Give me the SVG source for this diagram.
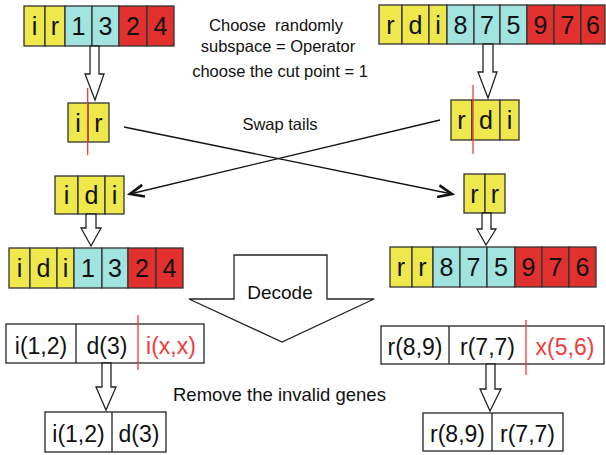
<svg xmlns="http://www.w3.org/2000/svg" width="606" height="455" viewBox="0 0 606 455">
<style>
.y{fill:#eee84c;stroke:#333;stroke-width:1.3}
.c{fill:#a1e3df;stroke:#333;stroke-width:1.3}
.r{fill:#e2302f;stroke:#333;stroke-width:1.3}
.w{fill:#fff;stroke:#222;stroke-width:1.3}
.g{font-family:"Liberation Sans",Arial,sans-serif;font-size:25px;fill:#111;text-anchor:middle}
.gt{font-family:"Liberation Sans",Arial,sans-serif;font-size:23px;fill:#111;text-anchor:middle}
.red{fill:#f23b3b}
.lbl{font-family:"Liberation Sans",Arial,sans-serif;font-size:16.5px;fill:#111;text-anchor:middle}
.cut{stroke:#f23b3b;stroke-width:1.3}
.ha{fill:#fff;stroke:#222;stroke-width:1.3;stroke-linejoin:miter}
.ln{stroke:#111;stroke-width:1.3;fill:none}
</style>
<defs>
<marker id="ah" markerUnits="userSpaceOnUse" markerWidth="18" markerHeight="16" refX="15" refY="7" orient="auto" viewBox="0 0 18 16">
<path d="M1,1 L15,7 L1,13" fill="none" stroke="#111" stroke-width="2.6" stroke-linejoin="miter"/>
</marker>
</defs>
<rect width="606" height="455" fill="#fff"/>

<g id="labels">
<text class="lbl" x="276" y="31" xml:space="preserve">Choose  randomly</text>
<text class="lbl" x="278" y="52">subspace = Operator</text>
<text class="lbl" x="280" y="77">choose the cut point = 1</text>
<text class="lbl" x="280" y="130">Swap tails</text>
<text class="lbl" x="173" y="401" style="text-anchor:start;font-size:18.5px">Remove the invalid genes</text>
</g>

<g id="parent1">
<rect class="y" x="24" y="6" width="21" height="40"/><rect class="y" x="45" y="6" width="20" height="40"/>
<rect class="c" x="65" y="6" width="27" height="40"/><rect class="c" x="92" y="6" width="27" height="40"/>
<rect class="r" x="119" y="6" width="28" height="40"/><rect class="r" x="147" y="6" width="27" height="40"/>
<text class="g" x="34.5" y="35">i</text><text class="g" x="55" y="35">r</text><text class="g" x="78.5" y="35">1</text><text class="g" x="105.5" y="35">3</text><text class="g" x="133" y="35">2</text><text class="g" x="160.5" y="35">4</text>
</g>

<g id="parent2">
<rect class="y" x="379" y="5" width="23" height="39"/><rect class="y" x="402" y="5" width="27" height="39"/><rect class="y" x="429" y="5" width="18" height="39"/>
<rect class="c" x="447" y="5" width="27" height="39"/><rect class="c" x="474" y="5" width="26" height="39"/><rect class="c" x="500" y="5" width="27" height="39"/>
<rect class="r" x="527" y="5" width="27" height="39"/><rect class="r" x="554" y="5" width="27" height="39"/><rect class="r" x="581" y="5" width="24" height="39"/>
<text class="g" x="390.5" y="34">r</text><text class="g" x="415.5" y="34">d</text><text class="g" x="438" y="34">i</text><text class="g" x="460.5" y="34">8</text><text class="g" x="487" y="34">7</text><text class="g" x="513.5" y="34">5</text><text class="g" x="540.5" y="34">9</text><text class="g" x="567.5" y="34">7</text><text class="g" x="593" y="34">6</text>
</g>

<g id="sub1">
<rect class="y" x="68" y="103" width="20" height="39"/><rect class="y" x="88" y="103" width="21" height="39"/>
<text class="g" x="78" y="132">i</text><text class="g" x="98.5" y="132">r</text>
<line class="cut" x1="87.7" y1="88" x2="87.7" y2="155"/>
</g>

<g id="sub2">
<rect class="y" x="451" y="100" width="21" height="40"/><rect class="y" x="472" y="100" width="28" height="40"/><rect class="y" x="500" y="100" width="19" height="40"/>
<text class="g" x="461.5" y="129">r</text><text class="g" x="486" y="129">d</text><text class="g" x="509.5" y="129">i</text>
<line class="cut" x1="473" y1="85" x2="473" y2="154"/>
</g>

<g id="child1sub">
<rect class="y" x="55" y="176" width="23" height="38"/><rect class="y" x="78" y="176" width="27" height="38"/><rect class="y" x="105" y="176" width="19" height="38"/>
<text class="g" x="66.5" y="204">i</text><text class="g" x="91.5" y="204">d</text><text class="g" x="114.5" y="204">i</text>
</g>

<g id="child2sub">
<rect class="y" x="464" y="174" width="21" height="39"/><rect class="y" x="485" y="174" width="20" height="39"/>
<text class="g" x="474.5" y="203">r</text><text class="g" x="495" y="203">r</text>
</g>

<g id="child1">
<rect class="y" x="9" y="248" width="21" height="40"/><rect class="y" x="30" y="248" width="27" height="40"/><rect class="y" x="57" y="248" width="17" height="40"/>
<rect class="c" x="74" y="248" width="28" height="40"/><rect class="c" x="102" y="248" width="26" height="40"/>
<rect class="r" x="128" y="248" width="28" height="40"/><rect class="r" x="156" y="248" width="27" height="40"/>
<text class="g" x="19.5" y="277">i</text><text class="g" x="43.5" y="277">d</text><text class="g" x="65.5" y="277">i</text><text class="g" x="88" y="277">1</text><text class="g" x="115" y="277">3</text><text class="g" x="142" y="277">2</text><text class="g" x="169.5" y="277">4</text>
</g>

<g id="child2">
<rect class="y" x="390" y="247" width="22" height="40"/><rect class="y" x="412" y="247" width="21" height="40"/>
<rect class="c" x="433" y="247" width="27" height="40"/><rect class="c" x="460" y="247" width="27" height="40"/><rect class="c" x="487" y="247" width="28" height="40"/>
<rect class="r" x="515" y="247" width="27" height="40"/><rect class="r" x="542" y="247" width="27" height="40"/><rect class="r" x="569" y="247" width="27" height="40"/>
<text class="g" x="401" y="276">r</text><text class="g" x="422.5" y="276">r</text><text class="g" x="446.5" y="276">8</text><text class="g" x="473.5" y="276">7</text><text class="g" x="501" y="276">5</text><text class="g" x="528.5" y="276">9</text><text class="g" x="555.5" y="276">7</text><text class="g" x="582.5" y="276">6</text>
</g>

<g id="decoded1">
<rect class="w" x="6" y="324" width="198" height="39"/>
<line class="ln" x1="76" y1="324" x2="76" y2="363" style="stroke:#222"/>
<line class="cut" x1="138" y1="315" x2="138" y2="370"/>
<text class="gt" x="41" y="354">i(1,2)</text><text class="gt" x="107" y="354">d(3)</text><text class="gt red" x="171" y="354">i(x,x)</text>
</g>

<g id="decoded2">
<rect class="w" x="381" y="326" width="223" height="38"/>
<line class="ln" x1="449" y1="326" x2="449" y2="364" style="stroke:#222"/>
<line class="cut" x1="526" y1="320" x2="526" y2="375"/>
<text class="gt" x="415" y="355">r(8,9)</text><text class="gt" x="487.5" y="355">r(7,7)</text><text class="gt red" x="565" y="355">x(5,6)</text>
</g>

<g id="final1">
<rect class="w" x="45" y="412" width="121" height="40"/>
<line class="ln" x1="112" y1="412" x2="112" y2="452" style="stroke:#222"/>
<text class="gt" x="78.5" y="442">i(1,2)</text><text class="gt" x="139" y="442">d(3)</text>
</g>

<g id="final2">
<rect class="w" x="423" y="413" width="140" height="38"/>
<line class="ln" x1="492" y1="413" x2="492" y2="451" style="stroke:#222"/>
<text class="gt" x="457.5" y="442">r(8,9)</text><text class="gt" x="527.5" y="442">r(7,7)</text>
</g>

<g id="connectors">
<polygon class="ha" points="90,46 99,46 99,74 104,74 95,100 85,74 90,74"/>
<polygon class="ha" points="483,44 493,44 493,72 497,72 488,98 478,72 483,72"/>
<polygon class="ha" points="86,214 96,214 96,228 101,228 91,246 81,228 86,228"/>
<polygon class="ha" points="482,213 491,213 491,229 496,229 486,245 477,229 482,229"/>
<polygon class="ha" points="102,363 111,363 111,387 116,387 106,410 96,387 102,387"/>
<polygon class="ha" points="486,364 495,364 495,389 501,389 490,411 480,389 486,389"/>
<line class="ln" x1="124" y1="127" x2="452" y2="194" marker-end="url(#ah)"/>
<line class="ln" x1="440" y1="120" x2="130" y2="194" marker-end="url(#ah)"/>
<g id="decode">
<polygon class="ha" points="234,299 234,255 327,255 327,299 374,299 282,342 189,299"/>
<text class="lbl" x="280" y="299" style="font-size:19px">Decode</text>
</g>
</g>
</svg>
